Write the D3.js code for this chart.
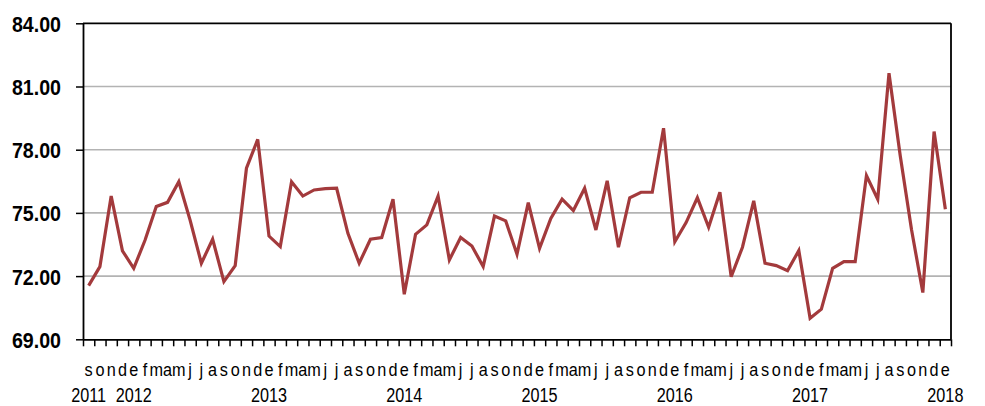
<!DOCTYPE html>
<html>
<head>
<meta charset="utf-8">
<script src="https://cdn.jsdelivr.net/npm/d3@7"></script>
<style>
  html, body { margin: 0; padding: 0; background: #ffffff; }
  svg { display: block; }
</style>
</head>
<body>
<svg id="chart" width="985" height="406"></svg>
<script>
// Months Sep 2011 .. Jan 2018 (Spanish initials)
const monthLabels = ["s","o","n","d",
  "e","f","m","a","m","j","j","a","s","o","n","d",
  "e","f","m","a","m","j","j","a","s","o","n","d",
  "e","f","m","a","m","j","j","a","s","o","n","d",
  "e","f","m","a","m","j","j","a","s","o","n","d",
  "e","f","m","a","m","j","j","a","s","o","n","d",
  "e","f","m","a","m","j","j","a","s","o","n","d",
  "e"];
const yearLabels = [
  {index: 0, label: "2011"},
  {index: 4, label: "2012"},
  {index: 16, label: "2013"},
  {index: 28, label: "2014"},
  {index: 40, label: "2015"},
  {index: 52, label: "2016"},
  {index: 64, label: "2017"},
  {index: 76, label: "2018"}
];
const values = [71.55, 72.45, 75.8, 73.2,
  72.37, 73.7, 75.3, 75.5, 76.48, 74.66, 72.61, 73.75, 71.74, 72.5, 77.12, 78.49,
  73.9, 73.4, 76.48, 75.8, 76.09, 76.15, 76.17, 74.03, 72.61, 73.75, 73.83, 75.65,
  71.14, 73.98, 74.43, 75.8, 72.77, 73.83, 73.43, 72.45, 74.85, 74.62, 73.04, 75.49,
  73.32, 74.74, 75.65, 75.11, 76.17, 74.19, 76.52, 73.37, 75.72, 75.98, 75.98, 79.02,
  73.63, 74.54, 75.72, 74.32, 75.98, 71.97, 73.37, 75.57, 72.61, 72.5, 72.26, 73.21,
  70.0, 70.43, 72.37, 72.69, 72.69, 76.77, 75.65, 81.63, 77.7, 74.2, 71.22, 78.86,
  75.17];
const yTicks = [69, 72, 75, 78, 81, 84];

const svg = d3.select("#chart");
const mLeft = 83, mRight = 951, mTop = 23.3, mBottom = 339.3;

const idx = values.map((d, i) => i);
const x = d3.scaleBand().domain(idx).range([mLeft, mRight]).paddingInner(0).paddingOuter(0);
const xEdge = d3.scaleLinear().domain([0, values.length]).range([mLeft, mRight]);
const y = d3.scaleLinear().domain([69, 84]).range([mBottom, mTop]);
const bw = x.bandwidth();

const fontFam = "'Liberation Sans', Arial, sans-serif";

// gridlines
svg.append("g")
  .selectAll("line")
  .data(yTicks.filter(t => t > 69 && t < 84))
  .join("line")
  .attr("x1", mLeft).attr("x2", mRight)
  .attr("y1", d => y(d)).attr("y2", d => y(d))
  .attr("stroke", "#b3b3b3").attr("stroke-width", 1.6);

// frame top/right
svg.append("line").attr("x1", mLeft).attr("x2", mRight).attr("y1", y(84)).attr("y2", y(84))
  .attr("stroke", "#000").attr("stroke-width", 1.8);
svg.append("line").attr("x1", mRight).attr("x2", mRight).attr("y1", y(84)).attr("y2", y(69))
  .attr("stroke", "#000").attr("stroke-width", 1.8);

// y axis
const ySx = 0.88;
const yAxis = svg.append("g")
  .attr("transform", `translate(${mLeft},0)`)
  .call(d3.axisLeft(y).tickValues(yTicks).tickFormat(d3.format(".2f")).tickSize(7).tickSizeOuter(0));
yAxis.select(".domain").attr("stroke", "#000").attr("stroke-width", 1.8);
yAxis.selectAll(".tick line").attr("stroke", "#000").attr("stroke-width", 1.5);
yAxis.selectAll(".tick text")
  .attr("x", -22 / ySx)
  .attr("dy", "0.36em")
  .attr("transform", `scale(${ySx},1)`)
  .attr("fill", "#000")
  .style("font-family", fontFam)
  .style("font-weight", "bold")
  .style("font-size", "22.3px");

// x axis ticks at band edges
const xAxisTicks = svg.append("g")
  .attr("transform", `translate(0,${mBottom})`)
  .call(d3.axisBottom(xEdge).tickValues(d3.range(values.length + 1)).tickFormat("").tickSize(7).tickSizeOuter(0));
xAxisTicks.select(".domain").attr("stroke", "#000").attr("stroke-width", 1.8);
xAxisTicks.selectAll(".tick line").attr("stroke", "#000").attr("stroke-width", 1.5);

// month labels, one letter centred under each month
const monthSx = 0.93;
const xAxisLabels = svg.append("g")
  .attr("transform", `translate(0,${mBottom})`)
  .call(d3.axisBottom(x).tickFormat(i => monthLabels[i]).tickSize(0));
xAxisLabels.select(".domain").remove();
xAxisLabels.selectAll(".tick text")
  .attr("y", 37)
  .attr("dy", 0)
  .attr("transform", `scale(${monthSx},1)`)
  .attr("fill", "#000")
  .style("font-family", fontFam)
  .style("font-size", "17.5px");

// year labels
const yearSx = 0.82;
svg.append("g")
  .selectAll("text")
  .data(yearLabels)
  .join("text")
  .attr("transform", d => `translate(${x(d.index) + bw / 2},402) scale(${yearSx},1)`)
  .attr("text-anchor", "middle")
  .attr("fill", "#000")
  .style("font-family", fontFam)
  .style("font-size", "19.8px")
  .text(d => d.label);

// data line
const line = d3.line()
  .x((d, i) => x(i) + bw / 2)
  .y(d => y(d));
svg.append("path")
  .datum(values)
  .attr("d", line)
  .attr("fill", "none")
  .attr("stroke", "#a33a3c")
  .attr("stroke-width", 3.2)
  .attr("stroke-linejoin", "miter");
</script>
</body>
</html>
